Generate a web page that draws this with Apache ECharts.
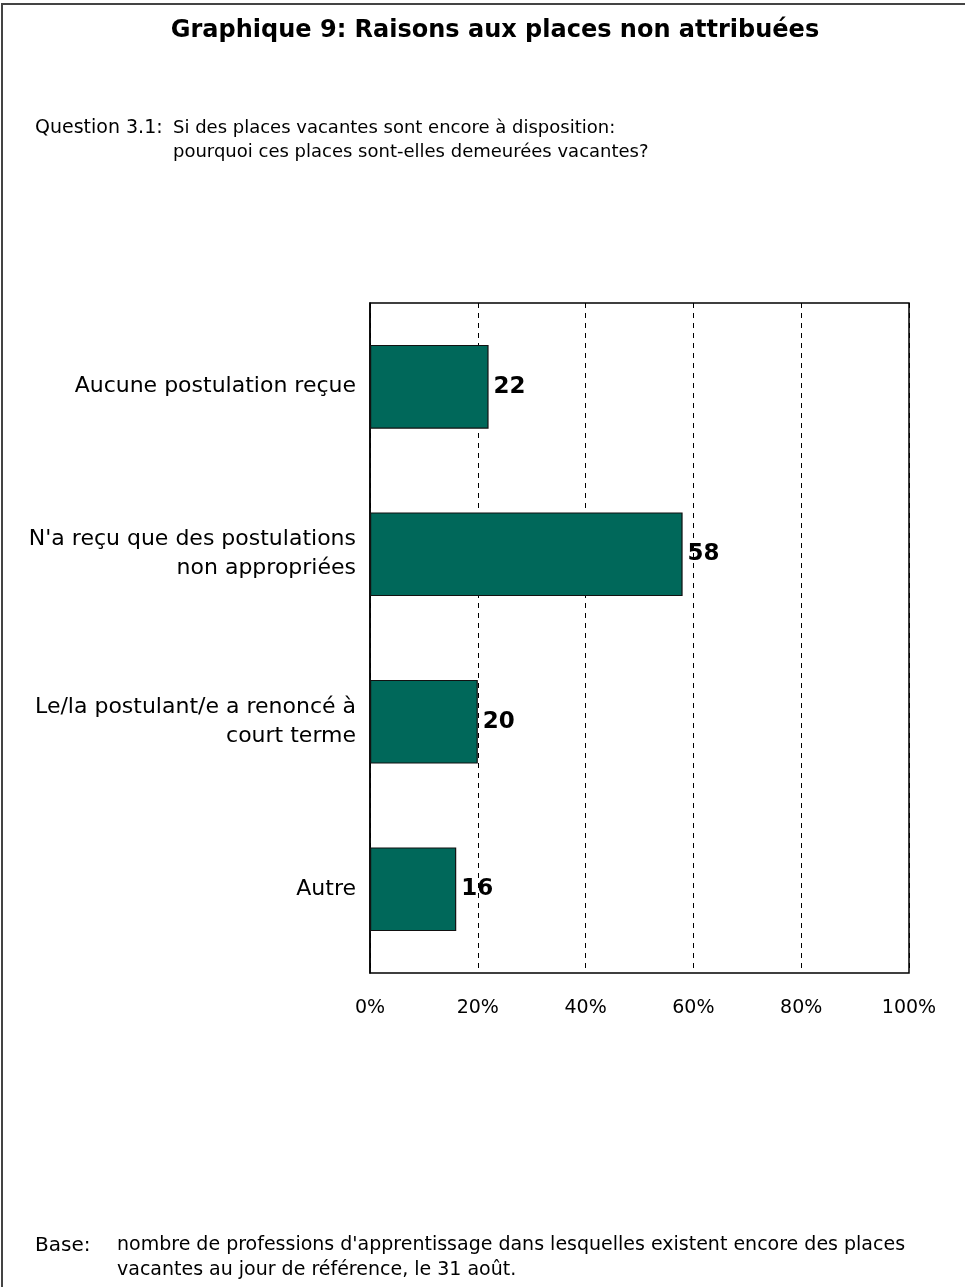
<!DOCTYPE html>
<html>
<head>
<meta charset="utf-8">
<script src="https://cdn.jsdelivr.net/npm/echarts@6/dist/echarts.min.js"></script>
<style>
html,body{margin:0;padding:0;background:#fff;}
#chart{width:965px;height:1287px;}
</style>
</head>
<body>
<div id="chart"></div>
<script>
const categories = [
  "Aucune postulation reçue",
  "N'a reçu que des postulations\nnon appropriées",
  "Le/la postulant/e a renoncé à\ncourt terme",
  "Autre"
];
const values = [22, 58, 20, 16];
const xTicks = [0, 20, 40, 60, 80, 100];

const FONT = "'DejaVu Sans', 'Liberation Sans', Arial, sans-serif";
const chart = echarts.init(document.getElementById('chart'), null, {renderer: 'canvas'});
chart.setOption({
  backgroundColor: '#fff',
  animation: false,
  title: {
    text: 'Graphique 9: Raisons aux places non attribuées',
    left: 490, top: 14, textAlign: 'center',
    textStyle: {fontFamily: FONT, fontSize: 24, fontWeight: 'bold', color: '#000'}
  },
  grid: {left: 370, right: 56, top: 303, bottom: 314, show: true, borderColor: '#000', borderWidth: 1.5},
  xAxis: {
    type: 'value', min: 0, max: 100, interval: 20,
    axisLine: {show: false},
    axisTick: {show: false},
    splitLine: {show: true, lineStyle: {color: '#000', type: [5, 5], width: 1}},
    axisLabel: {
      margin: 26, fontFamily: FONT, fontSize: 19, color: '#000',
      formatter: v => xTicks.includes(v) ? v + '%' : ''
    }
  },
  yAxis: {
    type: 'category', data: categories, inverse: true,
    axisLine: {show: true, lineStyle: {color: '#000', width: 1.5}},
    axisTick: {show: false},
    axisLabel: {margin: 14, fontFamily: FONT, fontSize: 22, color: '#000', lineHeight: 29, align: 'right'}
  },
  series: [{
    type: 'bar', data: values, barWidth: '50%',
    itemStyle: {color: '#00685A', borderColor: '#111', borderWidth: 1.2},
    label: {show: true, position: 'right', distance: 5, fontFamily: FONT, fontSize: 23, fontWeight: 'bold', color: '#000'}
  }],
  graphic: [
    {type: 'rect', shape: {x: 2, y: 4, width: 980, height: 1300}, style: {fill: null, stroke: '#444', lineWidth: 2}, silent: true},
    {type: 'text', left: 35, top: 116, style: {text: 'Question 3.1:', font: '19px ' + FONT, fill: '#000', lineHeight: 24}},
    {type: 'text', left: 173, top: 116, style: {text: 'Si des places vacantes sont encore à disposition:\npourquoi ces places sont-elles demeurées vacantes?', font: '18px ' + FONT, fill: '#000', lineHeight: 24}},
    {type: 'text', left: 35, top: 1233, style: {text: 'Base:', font: '20px ' + FONT, fill: '#000', lineHeight: 25}},
    {type: 'text', left: 117, top: 1233, style: {text: "nombre de professions d'apprentissage dans lesquelles existent encore des places\nvacantes au jour de référence, le 31 août.", font: '19px ' + FONT, fill: '#000', lineHeight: 25}}
  ]
});
</script>
</body>
</html>
